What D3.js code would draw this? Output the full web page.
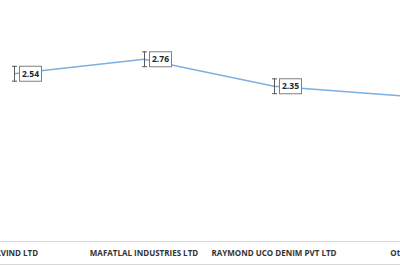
<!DOCTYPE html>
<html>
<head>
<meta charset="utf-8">
<script src="https://d3js.org/d3.v7.min.js"></script>
<style>
  body { margin: 0; background: #fff; }
  svg { display: block; }
  text { font-family: "Open Sans", "Liberation Sans", sans-serif; }
</style>
</head>
<body>
<script>
// categories and values
var categories = ["ARVIND LTD", "MAFATLAL INDUSTRIES LTD", "RAYMOND UCO DENIM PVT LTD", "Others"];
var values = [2.54, 2.76, 2.35, 2.2];
var errors = [0.12, 0.12, 0.12, 0.12];
var labels = ["2.54", "2.76", "2.35", ""];

var width = 400, height = 266;

var svg = d3.select("body").append("svg")
  .attr("width", width)
  .attr("height", height);

// the first category sits on the left edge (chart is cropped)
var x = d3.scalePoint()
  .domain(categories)
  .range([14, 404]);

var y = d3.scaleLinear()
  .domain([0, 3.66])
  .range([241, 0]);

// axis rule lines
svg.append("line")
  .attr("x1", 0).attr("x2", width)
  .attr("y1", 241.5).attr("y2", 241.5)
  .attr("stroke", "#d9d9d9").attr("stroke-width", 1);
svg.append("line")
  .attr("x1", 0).attr("x2", width)
  .attr("y1", 264.5).attr("y2", 264.5)
  .attr("stroke", "#d9d9d9").attr("stroke-width", 1);

// category labels
svg.append("g").selectAll("text")
  .data(categories)
  .enter().append("text")
  .attr("x", d => x(d))
  .attr("y", 256)
  .attr("text-anchor", "middle")
  .attr("font-size", 8)
  .attr("font-weight", "bold")
  .attr("fill", "#333")
  .text(d => d);

// line
var line = d3.line()
  .x((d, i) => x(categories[i]))
  .y(d => y(d));

svg.append("path")
  .datum(values)
  .attr("d", line)
  .attr("fill", "none")
  .attr("stroke", "#7cafe0")
  .attr("stroke-width", 1.5);

// error bars
var eb = svg.append("g").selectAll("g")
  .data(values)
  .enter().append("g")
  .attr("stroke", "#595959")
  .attr("stroke-width", 1);

eb.append("line")
  .attr("x1", (d, i) => x(categories[i]) + 0.5)
  .attr("x2", (d, i) => x(categories[i]) + 0.5)
  .attr("y1", (d, i) => y(d + errors[i]))
  .attr("y2", (d, i) => y(d - errors[i]));
eb.append("line")
  .attr("x1", (d, i) => x(categories[i]) - 2)
  .attr("x2", (d, i) => x(categories[i]) + 3)
  .attr("y1", (d, i) => y(d + errors[i]) + 0.5)
  .attr("y2", (d, i) => y(d + errors[i]) + 0.5);
eb.append("line")
  .attr("x1", (d, i) => x(categories[i]) - 2)
  .attr("x2", (d, i) => x(categories[i]) + 3)
  .attr("y1", (d, i) => y(d - errors[i]) - 0.5)
  .attr("y2", (d, i) => y(d - errors[i]) - 0.5);

// data labels in boxes
var lab = svg.append("g").selectAll("g")
  .data(values.map((v, i) => ({v: v, label: labels[i], cat: categories[i]})).filter(d => d.label))
  .enter().append("g")
  .attr("transform", d => "translate(" + (x(d.cat) + 5) + "," + y(d.v) + ")");

lab.append("rect")
  .attr("x", 0.5).attr("y", -7.5)
  .attr("width", 22).attr("height", 15)
  .attr("fill", "#fff")
  .attr("stroke", "#7f7f7f")
  .attr("stroke-width", 1);

lab.append("text")
  .attr("x", 11.5).attr("y", 3)
  .attr("text-anchor", "middle")
  .attr("font-size", 8.5)
  .attr("font-weight", "bold")
  .attr("fill", "#262626")
  .text(d => d.label);
</script>
</body>
</html>
